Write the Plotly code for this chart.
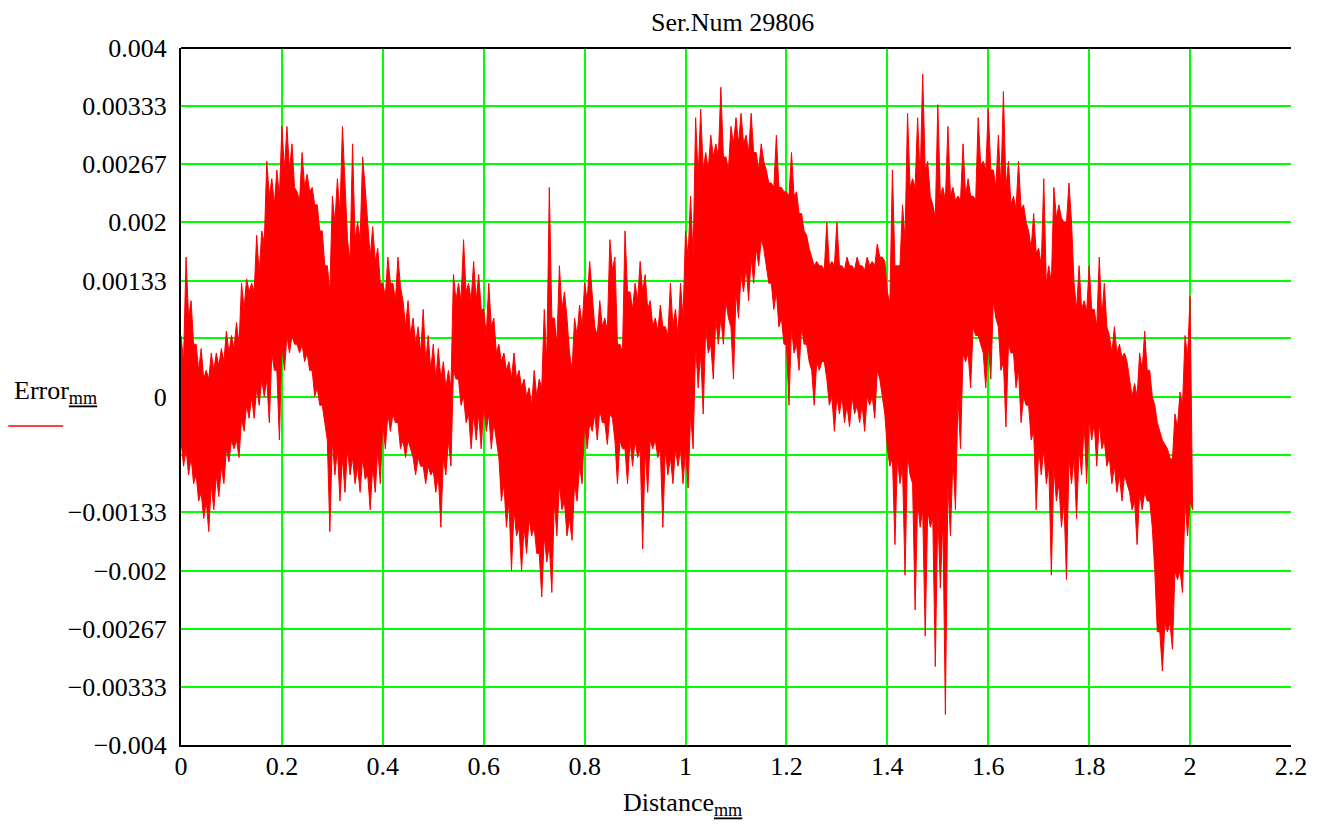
import plotly.graph_objects as go

# Sample positions along the measured distance (mm)
distance_mm = [round(i * 0.01, 2) for i in range(201)]

# Spike tips above the trace (micrometres)
err_hi_um = [
    0.7, 1.6, 1.1, 0.6, 0.55, 0.3, 0.5, 0.5, 0.55, 0.75,
    0.7, 0.85, 1.3, 1.35, 1.3, 1.85, 1.9, 2.7, 2.5, 2.6,
    3.1, 3.1, 2.9, 2.35, 2.8, 2.55, 2.4, 2.2, 1.9, 1.5,
    2.3, 2.5, 3.1, 1.8, 2.9, 2.0, 2.75, 2.0, 1.95, 1.7,
    1.3, 1.6, 1.3, 1.6, 1.1, 1.1, 0.9, 0.8, 1.0, 0.7,
    0.6, 0.55, 0.4, 0.3, 1.4, 1.3, 1.8, 1.3, 1.55, 1.4,
    1.0, 1.3, 0.9, 0.6, 0.5, 0.4, 0.5, 0.3, 0.2, 0.1,
    0.3, 0.2, 1.0, 2.4, 0.9, 1.5, 1.2, 0.5, 0.9, 1.05,
    1.3, 1.55, 0.8, 1.1, 0.9, 1.8, 1.6, 0.6, 1.9, 1.2,
    1.3, 1.55, 1.4, 1.1, 0.9, 1.05, 0.8, 1.3, 1.0, 1.3,
    1.9, 2.3, 3.2, 3.3, 2.8, 3.0, 2.9, 3.55, 2.75, 3.1,
    3.2, 3.25, 3.0, 3.25, 2.8, 2.9, 2.6, 2.45, 3.0, 2.4,
    2.35, 2.8, 2.35, 2.1, 1.85, 1.6, 1.55, 1.5, 2.0, 1.55,
    2.0, 1.5, 1.6, 1.5, 1.6, 1.5, 1.6, 1.55, 1.75, 1.6,
    1.2, 2.6, 1.5, 2.2, 3.25, 2.5, 3.2, 3.7, 2.7, 2.2,
    3.35, 2.4, 3.1, 2.4, 2.3, 2.9, 2.5, 2.3, 3.2, 2.7,
    3.3, 2.6, 3.0, 3.5, 2.7, 2.3, 2.7, 2.2, 1.9, 2.1,
    1.7, 2.5, 1.5, 2.4, 2.2, 2.0, 2.45, 1.3, 1.5, 1.1,
    1.5, 1.0, 1.6, 1.3, 0.7, 0.8, 0.6, 0.5, 0.2, 0.15,
    0.5, 0.75, 0.3, -0.1, -0.4, -0.55, -0.7, -0.2, 0.05, 0.7,
    1.15,
]

# Top of the solid core of the trace, between spikes (micrometres)
core_hi_um = [
    0.4, 0.9, 0.6, 0.3, 0.2, 0.2, 0.3, 0.35, 0.4, 0.5,
    0.55, 0.6, 1.0, 1.2, 1.2, 1.4, 1.76, 2.3, 2.2, 2.3,
    2.6, 2.6, 2.4, 2.25, 2.4, 2.35, 2.2, 1.9, 1.5, 1.2,
    2.0, 2.1, 2.5, 1.55, 1.8, 1.8, 2.4, 1.6, 1.55, 1.3,
    1.15, 1.3, 1.1, 1.26, 0.8, 0.7, 0.6, 0.5, 0.4, 0.3,
    0.2, 0.2, 0.1, 0.1, 1.1, 1.1, 1.2, 1.1, 1.1, 1.0,
    0.7, 0.8, 0.5, 0.4, 0.3, 0.2, 0.2, 0.1, 0.0, -0.1,
    0.0, 0.1, 0.4, 0.9, 0.6, 1.0, 0.9, 0.3, 0.7, 0.8,
    1.1, 1.2, 0.7, 0.8, 0.75, 1.45, 0.6, 0.5, 1.2, 1.0,
    1.1, 1.2, 1.0, 0.8, 0.75, 0.8, 0.7, 0.8, 0.7, 0.9,
    1.6, 1.6, 2.5, 2.6, 2.6, 2.75, 2.75, 2.75, 2.6, 2.9,
    2.9, 2.9, 2.8, 2.8, 2.6, 2.7, 2.45, 2.4, 2.4, 2.35,
    2.3, 2.3, 2.1, 1.9, 1.7, 1.5, 1.5, 1.45, 1.5, 1.5,
    1.5, 1.45, 1.5, 1.45, 1.5, 1.45, 1.5, 1.5, 1.6, 1.55,
    1.07, 1.5, 1.5, 1.8, 2.4, 2.4, 2.5, 2.6, 2.3, 2.05,
    2.3, 2.25, 2.3, 2.25, 2.25, 2.3, 2.3, 2.25, 2.65, 2.6,
    2.6, 2.4, 2.4, 2.4, 2.2, 2.15, 2.15, 2.0, 1.7, 1.65,
    1.5, 1.3, 1.3, 2.05, 2.05, 2.0, 2.0, 1.0, 1.0, 0.98,
    1.0, 0.8, 0.9, 0.8, 0.5, 0.5, 0.45, 0.4, 0.0, 0.0,
    0.3, 0.3, 0.0, -0.3, -0.5, -0.6, -0.73, -0.35, -0.1, 0.45,
    0.5,
]

# Bottom of the solid core of the trace, between spikes (micrometres)
core_lo_um = [
    -0.5, -0.6, -0.7, -0.9, -1.1, -1.2, -1.0, -0.9, -0.8, -0.6,
    -0.5, -0.5, -0.25, -0.1, 0.0, 0.1, 0.2, 0.2, 0.5, 0.3,
    0.6, 0.7, 0.7, 0.6, 0.6, 0.5, 0.3, 0.1, -0.1, -0.5,
    -0.5, -0.6, -0.7, -0.6, -0.7, -0.8, -0.7, -0.9, -0.8, -0.6,
    -0.3, -0.2, -0.2, -0.3, -0.5, -0.5, -0.7, -0.7, -0.8, -0.8,
    -0.85, -0.9, -0.7, -0.5, 0.3, 0.2, 0.0, -0.2, -0.2, -0.2,
    -0.1, -0.2, -0.3, -0.7, -1.0, -1.2, -1.3, -1.5, -1.5, -1.4,
    -1.5, -1.8, -1.6, -1.7, -1.2, -1.0, -1.2, -1.4, -1.0, -0.8,
    -0.3, -0.3, -0.2, -0.15, -0.3, -0.2, -0.5, -0.5, -0.6, -0.5,
    -0.5, -0.6, -0.6, -0.5, -0.5, -0.6, -0.6, -0.7, -0.6, -0.6,
    -0.6, -0.2, 0.6, 0.5, 0.8, 0.6, 0.9, 0.9, 1.1, 0.8,
    1.2, 1.4, 1.5, 1.6, 1.7, 1.8, 1.5, 1.3, 1.2, 0.9,
    0.6, 0.8, 0.6, 0.8, 0.6, 0.3, 0.4, 0.4, 0.2, 0.0,
    0.0, 0.0, -0.1, 0.0, -0.1, -0.1, 0.0, 0.0, 0.3, 0.0,
    -0.6, -0.7, -0.7, -0.8, -0.66, -1.0, -1.2, -1.3, -1.3, -1.4,
    -1.3, -1.4, -1.0, -0.7, 0.0, 0.5, 0.5, 0.8, 0.7, 0.5,
    0.6, 1.1, 0.8, 0.4, 0.6, 0.5, 0.3, 0.0, -0.1, -0.4,
    -0.6, -0.6, -0.8, -0.8, -1.0, -1.2, -0.7, -0.7, -0.6, -0.3,
    -0.25, -0.3, -0.3, -0.5, -0.7, -0.8, -0.9, -0.9, -1.1, -1.2,
    -1.1, -1.1, -1.2, -2.0, -2.7, -2.6, -2.6, -2.0, -2.0, -1.2,
    -1.2,
]

# Spike tips below the trace (micrometres)
err_lo_um = [
    -0.8, -0.9, -1.0, -1.2, -1.4, -1.55, -1.3, -1.15, -1.0, -0.75,
    -0.6, -0.7, -0.4, -0.25, -0.25, -0.1, 0.0, -0.3, 0.3, -0.5,
    0.3, 0.5, 0.6, 0.5, 0.4, 0.3, 0.0, -0.1, -0.3, -1.55,
    -0.9, -1.2, -1.1, -0.9, -1.0, -1.1, -0.95, -1.3, -1.1, -1.0,
    -0.6, -0.4, -0.3, -0.6, -0.7, -0.6, -0.9, -0.8, -1.0, -0.9,
    -1.1, -1.5, -0.9, -0.8, 0.2, -0.1, -0.3, -0.6, -0.5, -0.6,
    -0.4, -0.6, -0.5, -1.2, -1.5, -2.0, -1.6, -2.0, -1.8, -1.6,
    -1.8, -2.3, -1.9, -2.25, -1.6, -1.3, -1.6, -1.65, -1.2, -1.0,
    -0.6, -0.4, -0.5, -0.3, -0.55, -0.25, -1.0, -0.6, -1.0, -0.8,
    -0.7, -1.75, -1.1, -0.6, -0.7, -1.5, -0.9, -1.0, -0.8, -1.0,
    -1.05, -0.6, 0.1, -0.2, 0.5, 0.2, 0.6, 0.6, 0.9, 0.2,
    0.9, 1.2, 1.1, 1.3, 1.5, 1.7, 1.3, 1.0, 0.8, 0.6,
    -0.1, 0.5, 0.3, 0.6, 0.4, -0.1, 0.3, 0.4, -0.1, -0.4,
    -0.2, -0.3, -0.35, -0.2, -0.3, -0.4, -0.1, -0.25, 0.2, -0.2,
    -0.8, -1.7, -1.0, -2.05, -0.9, -2.45, -1.5, -2.75, -1.5, -3.1,
    -2.2, -3.65, -1.6, -1.3, -0.6, 0.4, 0.1, 0.7, 0.6, 0.1,
    0.2, 0.9, 0.3, -0.35, 0.5, 0.1, -0.3, -0.1, -0.5, -1.3,
    -0.9, -1.0, -2.05, -1.2, -1.5, -2.1, -1.0, -1.4, -0.9, -1.0,
    -0.5, -0.8, -0.6, -0.8, -1.0, -1.1, -1.2, -1.0, -1.3, -1.7,
    -1.3, -1.2, -1.5, -2.7, -3.15, -2.7, -2.9, -2.1, -2.25, -1.6,
    -1.3,
]

y_tick_vals = [0.004, 0.00333, 0.00267, 0.002, 0.00133, 0.0,
               -0.00133, -0.002, -0.00267, -0.00333, -0.004]
y_tick_text = ["0.004", "0.00333", "0.00267", "0.002", "0.00133", "0",
               "\u22120.00133", "\u22120.002", "\u22120.00267",
               "\u22120.00333", "\u22120.004"]
y_unlabelled_grid = [0.000667, -0.000667]
x_tick_vals = [0, 0.2, 0.4, 0.6, 0.8, 1, 1.2, 1.4, 1.6, 1.8, 2, 2.2]
x_tick_text = ["0", "0.2", "0.4", "0.6", "0.8", "1", "1.2", "1.4", "1.6",
               "1.8", "2", "2.2"]

half_step_mm = 0.005

# Outline of the dense trace: spike tip at each sample, core between samples,
# along the top going right, then along the bottom coming back.
top_x, top_y, bot_x, bot_y = [], [], [], []
n = len(distance_mm)
for i in range(n):
    d = distance_mm[i]
    top_x.append(d); top_y.append(err_hi_um[i] * 1e-3)
    bot_x.append(d); bot_y.append(core_lo_um[i] * 1e-3)
    if i < n - 1:
        top_x.append(d + half_step_mm); top_y.append(core_hi_um[i] * 1e-3)
        bot_x.append(d + half_step_mm); bot_y.append(err_lo_um[i] * 1e-3)
    else:
        bot_x.append(d + half_step_mm); bot_y.append(err_lo_um[i] * 1e-3)
        top_x.append(d + half_step_mm); top_y.append(err_lo_um[i] * 1e-3)

poly_x = top_x + bot_x[::-1]
poly_y = top_y + bot_y[::-1]

FONT = "Liberation Serif, Times New Roman, serif"
GREEN = "#00ff00"
RED = "#ff0000"

fig = go.Figure()
fig.add_trace(go.Scatter(x=poly_x, y=poly_y, mode="lines",
                         line=dict(color=RED, width=1),
                         fill="toself", fillcolor=RED,
                         showlegend=False, hoverinfo="skip"))

# page has an 8px body margin, so the figure is 16px smaller than the window
fig.update_layout(
    width=1311, height=814,
    margin=dict(l=173, r=26, t=40, b=77),
    paper_bgcolor="white", plot_bgcolor="white",
    font=dict(family=FONT, size=26, color="black"),
    xaxis=dict(range=[0, 2.2], tickvals=x_tick_vals, ticktext=x_tick_text,
               showgrid=True, gridcolor=GREEN, gridwidth=2,
               zeroline=False, showline=True, linecolor="black", linewidth=2,
               ticks="", ticklabelstandoff=-3),
    yaxis=dict(range=[-0.004, 0.004], tickvals=y_tick_vals, ticktext=y_tick_text,
               showgrid=True, gridcolor=GREEN, gridwidth=2,
               minor=dict(tickvals=y_unlabelled_grid, showgrid=True,
                          gridcolor=GREEN, gridwidth=2, ticks=""),
               zeroline=False, showline=True, linecolor="black", linewidth=2,
               ticks="", ticklabelstandoff=7),
    shapes=[
        dict(type="line", xref="paper", yref="paper", x0=0, x1=1, y0=1, y1=1,
             line=dict(color="black", width=2)),
        dict(type="line", xref="paper", yref="paper", x0=-0.1556, x1=-0.1061,
             y0=0.4577, y1=0.4577, line=dict(color=RED, width=1.5)),
    ],
    annotations=[
        dict(text="Ser.Num 29806", xref="paper", yref="paper", x=0.497, y=1.037,
             xanchor="center", yanchor="middle",
             showarrow=False, font=dict(family=FONT, size=26)),
        dict(text="Distance<sub><u>mm</u></sub>", xref="paper", yref="paper",
             x=0.452, y=-0.084, xanchor="center", yanchor="middle",
             showarrow=False, font=dict(family=FONT, size=26)),
        dict(text="Error<sub><u>mm</u></sub>", xref="paper", yref="paper",
             x=-0.152, y=0.507, xanchor="left", yanchor="middle",
             showarrow=False, font=dict(family=FONT, size=26)),
    ],
)

fig.write_html("out.html")
